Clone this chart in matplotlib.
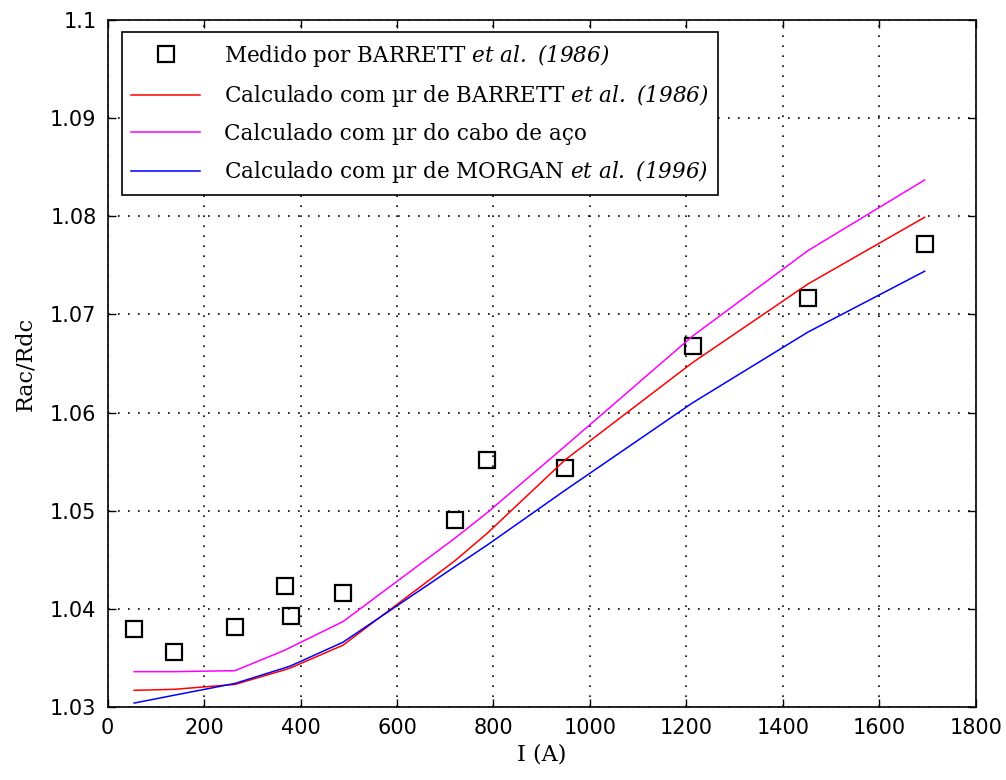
import numpy as np
import matplotlib.pyplot as plt

# medições (BARRETT et al. 1986)
corrente = [55, 138, 264, 368, 380, 488, 720, 787, 949, 1213, 1452, 1694]
medido = [1.0379, 1.0356, 1.0382, 1.0423, 1.0393, 1.0416, 1.0491, 1.0552, 1.0544, 1.0668, 1.0717, 1.0772]

# curvas calculadas, avaliadas nas mesmas correntes
calc_barrett = [1.0317, 1.0318, 1.0323, 1.0338, 1.0340, 1.0363, 1.0449, 1.0477, 1.0552, 1.0651, 1.0731, 1.0799]
calc_aco = [1.0336, 1.0336, 1.0337, 1.0358, 1.0361, 1.0387, 1.0472, 1.0498, 1.0566, 1.0678, 1.0765, 1.0837]
calc_morgan = [1.0304, 1.0312, 1.0324, 1.0340, 1.0342, 1.0366, 1.0443, 1.0465, 1.0521, 1.0610, 1.0682, 1.0744]

xticks = [0, 200, 400, 600, 800, 1000, 1200, 1400, 1600, 1800]
yticks = [1.03, 1.04, 1.05, 1.06, 1.07, 1.08, 1.09, 1.1]
ytick_labels = ["1.03", "1.04", "1.05", "1.06", "1.07", "1.08", "1.09", "1.1"]

# trecho em mathtext todo em itálico (inclusive os dígitos)
plt.rcParams['mathtext.fontset'] = 'custom'
plt.rcParams['mathtext.it'] = 'DejaVu Serif:italic'
plt.rcParams['mathtext.rm'] = 'DejaVu Serif:italic'

fig = plt.figure(figsize=(10.06, 7.8), dpi=100)
ax = fig.add_axes([0.107, 0.0936, 0.863, 0.8808])

ax.plot(corrente, medido, 's', ms=12, mfc='none', mec='black', mew=1.6,
        label=r"Medido por BARRETT $et\ al.\ (1986)$")
ax.plot(corrente, calc_barrett, '-', color='#ff0000', lw=1.1,
        label=r"Calculado com µr de BARRETT $et\ al.\ (1986)$")
ax.plot(corrente, calc_aco, '-', color='#ff00ff', lw=1.1,
        label="Calculado com µr do cabo de aço")
ax.plot(corrente, calc_morgan, '-', color='#0000ff', lw=1.1,
        label=r"Calculado com µr de MORGAN $et\ al.\ (1996)$")

ax.set_xlim(0, 1800)
ax.set_ylim(1.03, 1.1)
ax.set_xticks(xticks)
ax.set_yticks(yticks)
ax.set_yticklabels(ytick_labels)
ax.tick_params(direction='in', length=6, width=1, top=True, right=True,
               labelsize=15, pad=8)
for lab in ax.get_xticklabels() + ax.get_yticklabels():
    lab.set_family('DejaVu Sans')

ax.grid(True, color='black', linestyle=(0, (1, 5)), linewidth=1.2)
for s in ax.spines.values():
    s.set_linewidth(1.2)

ax.set_xlabel("I (A)", family='DejaVu Serif', fontsize=16, labelpad=4)
ax.set_ylabel("Rac/Rdc", family='DejaVu Serif', fontsize=16, labelpad=10)

leg = ax.legend(loc='upper left', bbox_to_anchor=(0.016, 0.982), prop={'family': 'DejaVu Serif', 'size': 15.5},
                fancybox=False, edgecolor='black', framealpha=1, handlelength=3.2,
                labelspacing=0.62, borderpad=0.45, handletextpad=1.1, borderaxespad=0)
leg.get_frame().set_linewidth(1.2)

fig.savefig("out.png", dpi=100)
